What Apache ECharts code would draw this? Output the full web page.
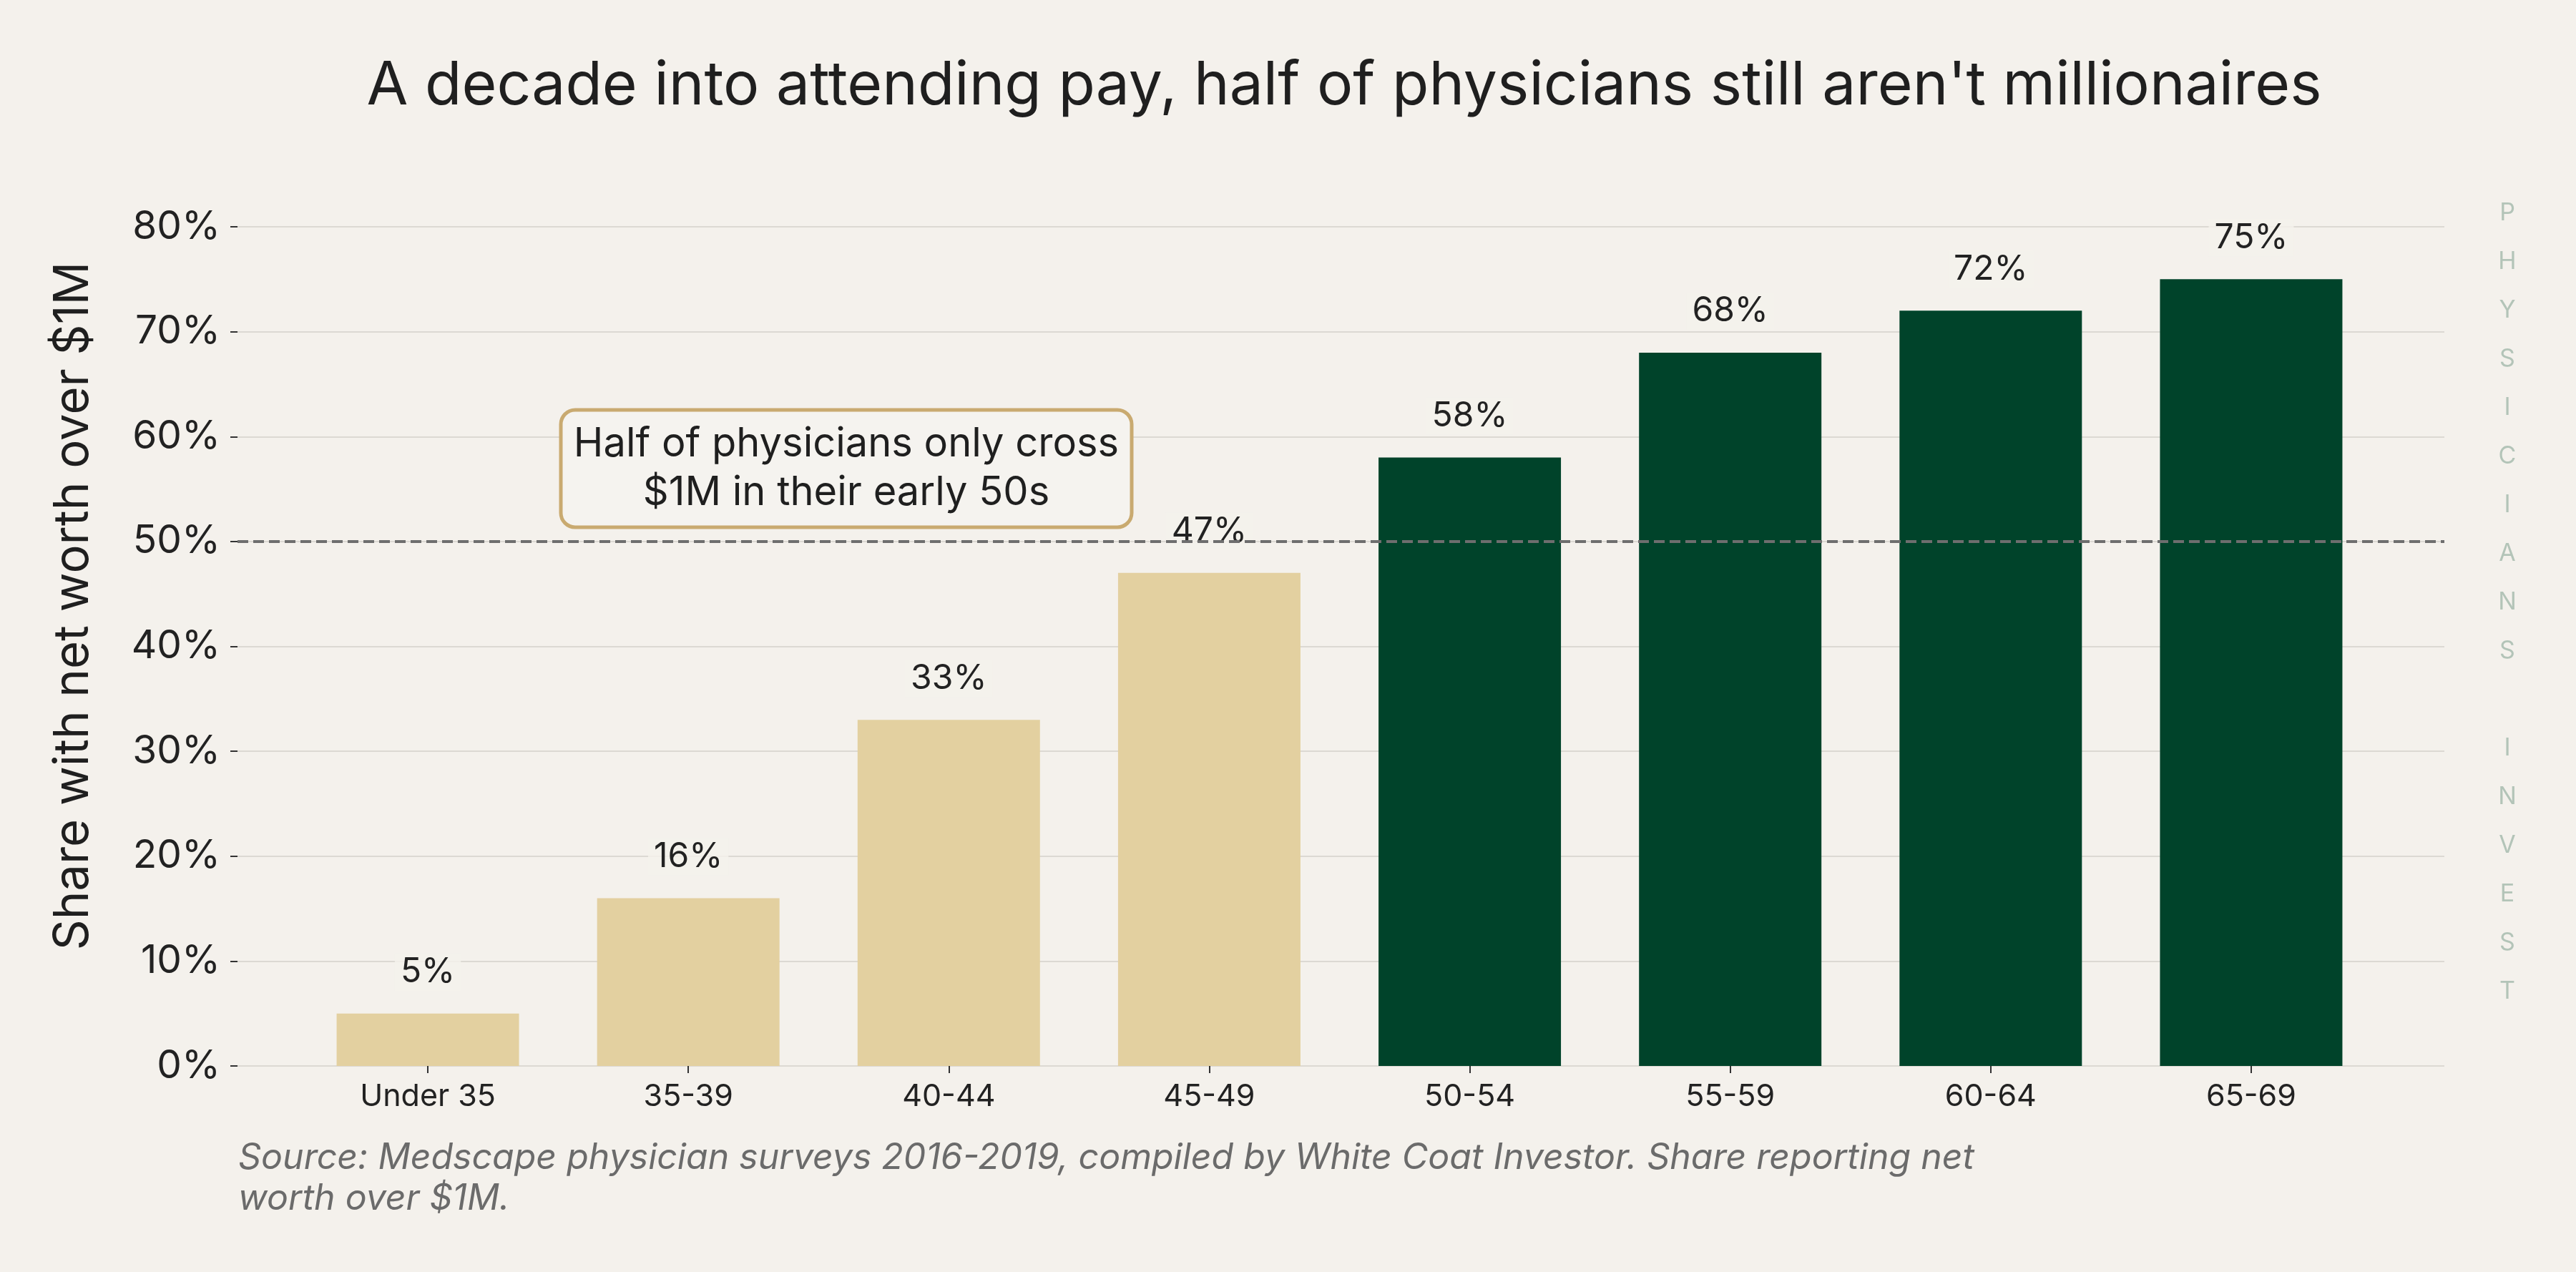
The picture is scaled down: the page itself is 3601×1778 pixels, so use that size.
<!DOCTYPE html>
<html>
<head>
<meta charset="utf-8">
<script src="https://cdn.jsdelivr.net/npm/echarts@6/dist/echarts.min.js"></script>
<style>
html,body{margin:0;padding:0;background:#f4f1ec;}
#chart{width:3601px;height:1778px;}
</style>
</head>
<body>
<div id="chart"></div>
<script>
const categories = ['Under 35', '35-39', '40-44', '45-49', '50-54', '55-59', '60-64', '65-69'];
const shareOverMillion = [5, 16, 33, 47, 58, 68, 72, 75];
const yTicks = [0, 10, 20, 30, 40, 50, 60, 70, 80];
const thresholdLine = 50;

const titleText = "A decade into attending pay, half of physicians still aren't millionaires";
const yAxisTitle = 'Share with net worth over $1M';
const annotationText = 'Half of physicians only cross\n$1M in their early 50s';
const sourceText = 'Source: Medscape physician surveys 2016-2019, compiled by White Coat Investor. Share reporting net\nworth over $1M.';
const watermark = 'PHYSICIANS INVEST';

const BG = '#f4f1ec';
const TAN = '#e3d0a0';
const GREEN = '#00432a';
const FONT = 'Inter, "Noto Sans", sans-serif';

const chart = echarts.init(document.getElementById('chart'), null, {renderer: 'canvas'});

const option = {
  backgroundColor: BG,
  animation: false,
  textStyle: {fontFamily: FONT},
  title: {
    text: titleText,
    left: 1874, top: 74, textAlign: 'center',
    textStyle: {fontFamily: FONT, fontSize: 84, fontWeight: 'normal', color: '#1f1f1f'}
  },
  grid: [
    {left: 332, right: 184, top: 317, bottom: 288},
    {left: 416, right: 272, top: 317, bottom: 288}
  ],
  xAxis: [
    {gridIndex: 0, type: 'value', min: 0, max: 1, show: false},
    {
      gridIndex: 1, type: 'category', data: categories,
      axisLine: {show: false},
      axisTick: {show: true, alignWithLabel: true, length: 10, lineStyle: {color: '#333', width: 2}},
      axisLabel: {fontFamily: FONT, fontSize: 43, color: '#222', margin: 22}
    }
  ],
  yAxis: [
    {
      gridIndex: 0, type: 'value', min: yTicks[0], max: yTicks[yTicks.length - 1], interval: 10,
      axisLine: {show: false},
      axisTick: {show: true, length: 10, lineStyle: {color: '#333', width: 2}},
      axisLabel: {fontFamily: FONT, fontSize: 55, color: '#222', margin: 24, formatter: '{value}%'},
      splitLine: {show: true, lineStyle: {color: '#dcd9d3', width: 2}}
    },
    {gridIndex: 1, type: 'value', min: yTicks[0], max: yTicks[yTicks.length - 1], show: false}
  ],
  series: [
    {
      type: 'bar', xAxisIndex: 1, yAxisIndex: 1, z: 2,
      barWidth: 255,
      data: shareOverMillion.map(v => ({value: v, itemStyle: {color: v > thresholdLine ? GREEN : TAN}})),
      label: {
        show: true, position: 'top', distance: 32,
        formatter: '{c}%', fontFamily: FONT, fontSize: 48, color: '#222',
        backgroundColor: 'rgba(244,241,236,0.82)', padding: [2, 8]
      }
    },
    {
      type: 'line', xAxisIndex: 0, yAxisIndex: 0, data: [], z: 3,
      markLine: {
        silent: true, symbol: 'none', z: 3,
        label: {show: false},
        lineStyle: {type: [15, 7], color: '#6e6e6e', width: 4},
        data: [{yAxis: thresholdLine}]
      }
    }
  ],
  graphic: [
    {
      type: 'text', rotation: Math.PI / 2, position: [103, 847],
      style: {text: yAxisTitle, font: '67px ' + FONT, fill: '#1f1f1f', textAlign: 'center', textVerticalAlign: 'middle'}
    },
    {
      type: 'rect', z: 10,
      shape: {x: 784, y: 573, width: 798, height: 164, r: 20},
      style: {fill: '#f5f3ef', stroke: '#c9aa70', lineWidth: 5}
    },
    {
      type: 'text', z: 11,
      style: {x: 1183, y: 655, text: annotationText, font: '56px ' + FONT, fill: '#1f1f1f',
        textAlign: 'center', textVerticalAlign: 'middle', lineHeight: 68}
    },
    {
      type: 'text', z: 11,
      style: {x: 3505, y: 264, text: watermark.split('').join('\n'), font: '34px ' + FONT, fill: '#b3c4b8',
        textAlign: 'center', textVerticalAlign: 'top', lineHeight: 68}
    },
    {
      type: 'text', z: 11,
      style: {x: 333, y: 1590, text: sourceText, font: 'italic 50px ' + FONT, fill: '#6b6b6b',
        textAlign: 'left', textVerticalAlign: 'top', lineHeight: 57}
    }
  ]
};
chart.setOption(option);
</script>
</body>
</html>
